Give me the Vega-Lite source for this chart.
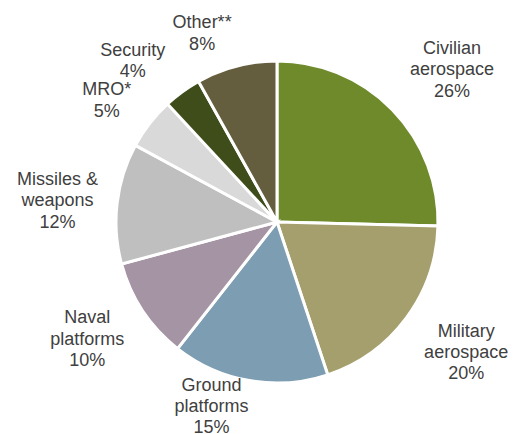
{
  "$schema": "https://vega.github.io/schema/vega-lite/v6.json",
  "autosize": "none",
  "width": 476,
  "height": 424,
  "padding": {"left": 39, "top": 10, "right": 0, "bottom": 0},
  "background": "white",
  "config": {"view": {"stroke": null}},
  "data": {
    "values": [
      {"idx": 1, "segment": "Civilian aerospace", "share": 25.4, "l1": "Civilian", "l2": "aerospace", "pct": "26%"},
      {"idx": 2, "segment": "Military aerospace", "share": 19.5, "l1": "Military", "l2": "aerospace", "pct": "20%"},
      {"idx": 3, "segment": "Ground platforms", "share": 15.7, "l1": "Ground", "l2": "platforms", "pct": "15%"},
      {"idx": 4, "segment": "Naval platforms", "share": 10.2, "l1": "Naval", "l2": "platforms", "pct": "10%"},
      {"idx": 5, "segment": "Missiles & weapons", "share": 12.1, "l1": "Missiles &", "l2": "weapons", "pct": "12%"},
      {"idx": 6, "segment": "MRO*", "share": 5.2, "l1": "MRO*", "l2": "", "pct": "5%"},
      {"idx": 7, "segment": "Security", "share": 3.8, "l1": "Security", "l2": "", "pct": "4%"},
      {"idx": 8, "segment": "Other**", "share": 8.1, "l1": "Other**", "l2": "", "pct": "8%"}
    ]
  },
  "transform": [
    {"stack": "share", "groupby": [], "sort": [{"field": "idx", "order": "ascending"}], "as": ["t0", "t1"]},
    {"calculate": "(datum.t0 + datum.t1) / 2", "as": "tmid"},
    {"calculate": "datum.l2 == '' ? [datum.l1, datum.pct] : [datum.l1, datum.l2, datum.pct]", "as": "lbl"}
  ],
  "resolve": {"scale": {"theta": "shared"}},
  "layer": [
    {
      "mark": {"type": "arc", "outerRadius": 161, "stroke": "white", "strokeWidth": 3},
      "encoding": {
        "theta": {"field": "t0", "type": "quantitative", "stack": null, "scale": {"domain": [0, 100]}},
        "theta2": {"field": "t1"},
        "color": {
          "field": "segment",
          "type": "nominal",
          "sort": null,
          "legend": null,
          "scale": {
            "domain": ["Civilian aerospace", "Military aerospace", "Ground platforms", "Naval platforms", "Missiles & weapons", "MRO*", "Security", "Other**"],
            "range": ["#6E8A2B", "#A49F6C", "#7D9DB2", "#A494A4", "#BFBFBF", "#D9D9D9", "#3F4D1A", "#645E3E"]
          }
        }
      }
    },
    {
      "transform": [{"filter": "datum.idx == 1"}],
      "mark": {"type": "text", "radius": 218, "dx": 19, "dy": -21, "font": "Liberation Sans", "fontSize": 18, "lineHeight": 21.5, "color": "#404040", "align": "center", "baseline": "middle"},
      "encoding": {"theta": {"field": "tmid", "type": "quantitative", "stack": null, "scale": {"domain": [0, 100]}}, "text": {"field": "lbl"}}
    },
    {
      "transform": [{"filter": "datum.idx == 2"}],
      "mark": {"type": "text", "radius": 218, "dx": 14, "dy": -20, "font": "Liberation Sans", "fontSize": 18, "lineHeight": 21, "color": "#404040", "align": "center", "baseline": "middle"},
      "encoding": {"theta": {"field": "tmid", "type": "quantitative", "stack": null, "scale": {"domain": [0, 100]}}, "text": {"field": "lbl"}}
    },
    {
      "transform": [{"filter": "datum.idx == 3"}],
      "mark": {"type": "text", "radius": 218, "dx": -28, "dy": -51, "font": "Liberation Sans", "fontSize": 18, "lineHeight": 21, "color": "#404040", "align": "center", "baseline": "middle"},
      "encoding": {"theta": {"field": "tmid", "type": "quantitative", "stack": null, "scale": {"domain": [0, 100]}}, "text": {"field": "lbl"}}
    },
    {
      "transform": [{"filter": "datum.idx == 4"}],
      "mark": {"type": "text", "radius": 218, "dx": -8, "dy": -24, "font": "Liberation Sans", "fontSize": 18, "lineHeight": 21.5, "color": "#404040", "align": "center", "baseline": "middle"},
      "encoding": {"theta": {"field": "tmid", "type": "quantitative", "stack": null, "scale": {"domain": [0, 100]}}, "text": {"field": "lbl"}}
    },
    {
      "transform": [{"filter": "datum.idx == 5"}],
      "mark": {"type": "text", "radius": 218, "dx": -3, "dy": -17, "font": "Liberation Sans", "fontSize": 18, "lineHeight": 21.5, "color": "#404040", "align": "center", "baseline": "middle"},
      "encoding": {"theta": {"field": "tmid", "type": "quantitative", "stack": null, "scale": {"domain": [0, 100]}}, "text": {"field": "lbl"}}
    },
    {
      "transform": [{"filter": "datum.idx == 6"}],
      "mark": {"type": "text", "radius": 218, "dx": 2, "dy": 2, "font": "Liberation Sans", "fontSize": 18, "lineHeight": 21.5, "color": "#404040", "align": "center", "baseline": "middle"},
      "encoding": {"theta": {"field": "tmid", "type": "quantitative", "stack": null, "scale": {"domain": [0, 100]}}, "text": {"field": "lbl"}}
    },
    {
      "transform": [{"filter": "datum.idx == 7"}],
      "mark": {"type": "text", "radius": 218, "dx": -16, "dy": 5, "font": "Liberation Sans", "fontSize": 18, "lineHeight": 21.5, "color": "#404040", "align": "center", "baseline": "middle"},
      "encoding": {"theta": {"field": "tmid", "type": "quantitative", "stack": null, "scale": {"domain": [0, 100]}}, "text": {"field": "lbl"}}
    },
    {
      "transform": [{"filter": "datum.idx == 8"}],
      "mark": {"type": "text", "radius": 218, "dx": -20, "dy": 12, "font": "Liberation Sans", "fontSize": 18, "lineHeight": 21.5, "color": "#404040", "align": "center", "baseline": "middle"},
      "encoding": {"theta": {"field": "tmid", "type": "quantitative", "stack": null, "scale": {"domain": [0, 100]}}, "text": {"field": "lbl"}}
    }
  ]
}
